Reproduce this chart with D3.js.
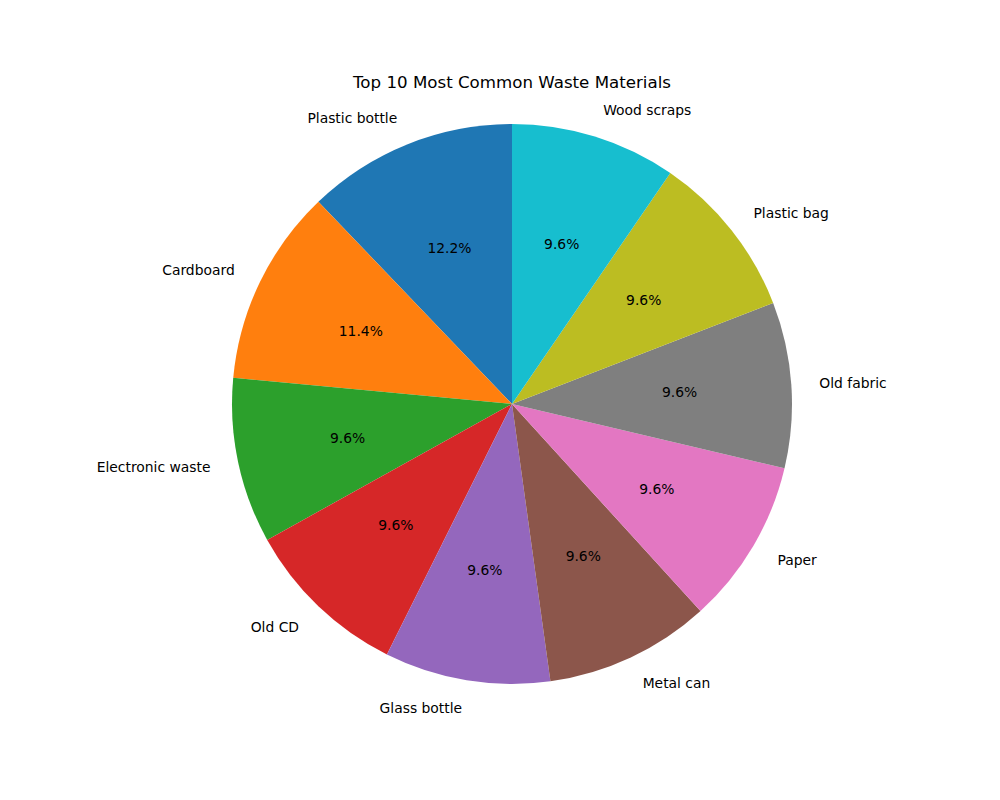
<!DOCTYPE html>
<head>
  <meta charset="utf-8">
  <style>
    body { margin: 0; background: #fff; }
    text { font-family: 'DejaVu Sans', sans-serif; }
  </style>
  <script src="https://cdn.jsdelivr.net/npm/d3@7"></script>
</head>
<body>
  <script>
    const materials = ['Plastic bottle', 'Cardboard', 'Electronic waste', 'Old CD', 'Glass bottle',
                       'Metal can', 'Paper', 'Old fabric', 'Plastic bag', 'Wood scraps'];
    const amounts = [12.2, 11.4, 9.6, 9.6, 9.6, 9.6, 9.6, 9.6, 9.6, 9.6];
    const palette = ['#1f77b4', '#ff7f0e', '#2ca02c', '#d62728', '#9467bd',
                     '#8c564b', '#e377c2', '#7f7f7f', '#bcbd22', '#17becf'];

    const w = 1000, h = 800;
    const cx = 512, cy = 404, r = 280;

    const svg = d3.select('body').append('svg')
        .attr('width', w)
        .attr('height', h);

    svg.append('text')
      .attr('x', cx)
      .attr('y', 82)
      .attr('text-anchor', 'middle')
      .attr('dominant-baseline', 'central')
      .attr('font-size', '16.67px')
      .text('Top 10 Most Common Waste Materials');

    const data = materials.map((m, i) => ({ name: m, value: amounts[i] }));
    const total = d3.sum(amounts);

    // counterclockwise from the top, like startangle=90
    const pie = d3.pie().value(d => d.value).sort(null)
      .startAngle(0).endAngle(-2 * Math.PI);
    const arcs = pie(data);
    const arc = d3.arc().innerRadius(0).outerRadius(r);

    const g = svg.append('g').attr('transform', `translate(${cx},${cy})`);

    g.selectAll('path')
      .data(arcs)
      .enter()
      .append('path')
      .attr('d', arc)
      .attr('fill', (d, i) => palette[i]);

    const mid = d => (d.startAngle + d.endAngle) / 2;
    const pos = (d, k) => [Math.sin(mid(d)) * r * k, -Math.cos(mid(d)) * r * k];

    g.selectAll('text.pct')
      .data(arcs)
      .enter()
      .append('text')
      .attr('class', 'pct')
      .attr('x', d => pos(d, 0.6)[0])
      .attr('y', d => pos(d, 0.6)[1])
      .attr('text-anchor', 'middle')
      .attr('dominant-baseline', 'central')
      .attr('font-size', '13.89px')
      .text(d => (d.value / total * 100).toFixed(1) + '%');

    g.selectAll('text.lbl')
      .data(arcs)
      .enter()
      .append('text')
      .attr('class', 'lbl')
      .attr('x', d => pos(d, 1.1)[0])
      .attr('y', d => pos(d, 1.1)[1])
      .attr('text-anchor', d => pos(d, 1.1)[0] < 0 ? 'end' : 'start')
      .attr('dominant-baseline', 'central')
      .attr('font-size', '13.89px')
      .text(d => d.data.name);
  </script>
</body>
